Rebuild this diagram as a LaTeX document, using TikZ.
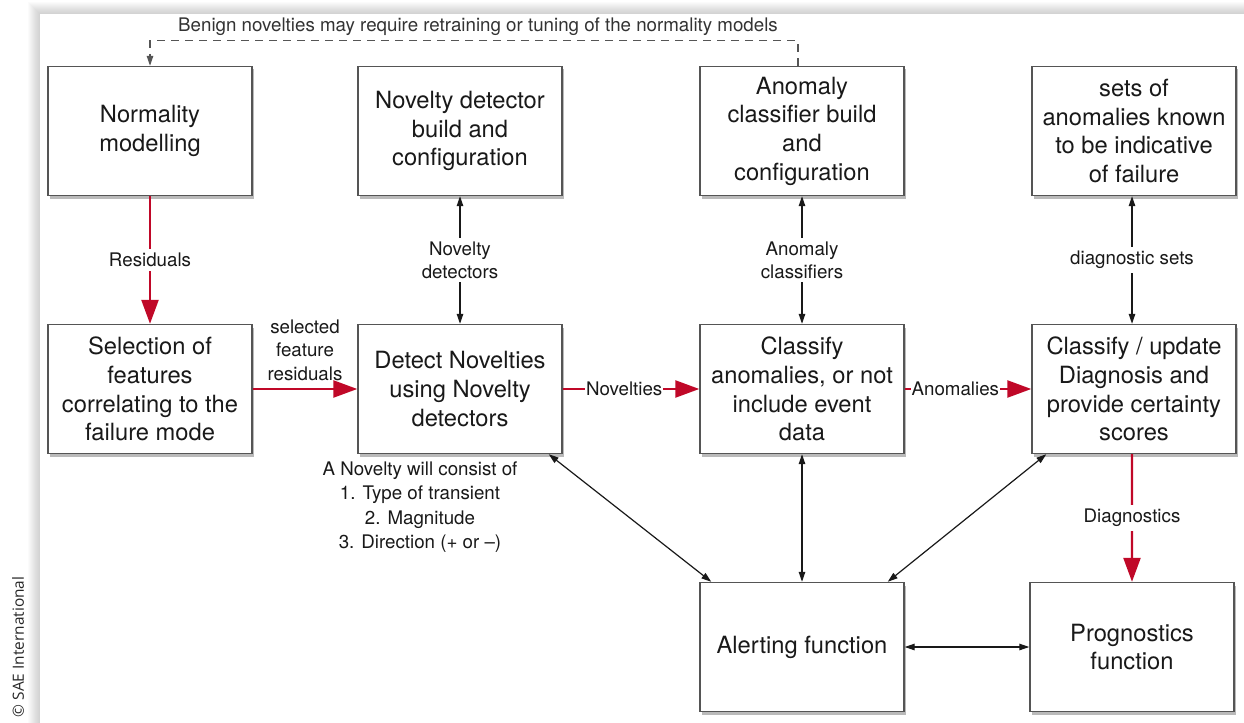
\documentclass[tikz,border=0pt]{standalone}
\usepackage{fontspec}
\setmainfont{TeX Gyre Heros}
\newfontfamily\notefont{Open Sans}
\usetikzlibrary{arrows.meta,shadows,calc}
\definecolor{flowred}{RGB}{192,8,40}
\definecolor{inkgrey}{RGB}{25,25,25}
\definecolor{edgegrey}{RGB}{85,85,85}

\begin{document}
\begin{tikzpicture}[x=1bp,y=-1bp,
  box/.style={draw=edgegrey, line width=1.4bp, fill=white,
    minimum width=204bp, minimum height=129bp, align=center, text=inkgrey,
    font=\fontsize{23.8}{28.8}\selectfont, inner sep=2bp,
    drop shadow={shadow xshift=2bp, shadow yshift=-3bp, opacity=0.45, fill=black!60}},
  lab/.style={font=\fontsize{18.8}{23}\selectfont, text=inkgrey, align=center},
  gap/.style={lab, fill=white, inner sep=4bp},
  flow/.style={draw=flowred, line width=2.4bp, -{Triangle[length=24bp,width=17bp]}},
  link/.style={draw=inkgrey, line width=1.2bp,
    {Triangle[length=10bp,width=6.5bp]}-{Triangle[length=10bp,width=6.5bp]}},
]
\useasboundingbox (0,0) rectangle (1244,723);

% page with a soft shadow along its top and left edges
\foreach \i in {1,...,12}
  \fill[black, opacity=0.016] (40-\i,14-\i) rectangle (1260,740);
\fill[white] (40,14) rectangle (1260,740);

% copyright note in the margin
\node[rotate=90, font=\notefont\fontsize{15.5}{18}\selectfont, text=black!85] (sae) at (18,647) {© SAE International};

% top row
\node[box] (norm) at (150,131) {Normality\\modelling};
\node[box] (ndb) at (460,131) {Novelty detector\\build and\\configuration};
\node[box] (acb) at (802,131) {Anomaly\\classifier build\\and\\configuration};
\node[box] (sets) at (1134,131) {sets of\\anomalies known\\to be indicative\\of failure};

% middle row
\node[box] (sel) at (150,389) {Selection of\\features\\correlating to the\\failure mode};
\node[box] (det) at (460,389) {Detect Novelties\\using Novelty\\detectors};
\node[box] (cls) at (802,389) {Classify\\anomalies, or not\\include event\\data};
\node[box] (upd) at (1134,389) {Classify / update\\Diagnosis and\\provide certainty\\scores};

% bottom row
\node[box] (alert) at (802,647) {Alerting function};
\node[box] (prog) at (1132,647) {Prognostics\\function};

% what a novelty consists of
\node[lab, anchor=north, font=\fontsize{18.8}{24.5}\selectfont] (novnote) at (420,458)
  {A Novelty will consist of\\1. Type of transient\\2. Magnitude\\3. Direction (+ or \textendash)};

% feedback loop
\node[lab, text=black!80] (benign) at (478,27) {Benign novelties may require retraining or tuning of the normality models};
\draw[edgegrey, line width=1.2bp, dash pattern=on 8bp off 6bp,
  -{Triangle[length=10bp,width=6.5bp]}]
  ([xshift=-4bp]acb.north) |- ([yshift=25bp]norm.north) -- (norm.north);

% main data flow
\draw[flow] (norm) -- node[gap] {Residuals} (sel);
\draw[flow] (sel) -- node[lab, above, font=\fontsize{18.8}{23.5}\selectfont, yshift=4bp] {selected\\feature\\residuals} (det);
\draw[flow] (det) -- node[gap, pos=0.45, inner sep=1bp] {Novelties} (cls);
\draw[flow] (cls) -- node[gap, pos=0.4, inner sep=1bp] {Anomalies} (upd);
\draw[flow] ([xshift=-2bp]upd.south) -- node[gap] {Diagnostics} (prog);

% model exchanges
\draw[link] (ndb) -- node[gap] {Novelty\\detectors} (det);
\draw[link] (acb) -- node[gap] {Anomaly\\classifiers} (cls);
\draw[link] ([xshift=-2bp]sets.south) -- node[gap] {diagnostic sets} ([xshift=-2bp]upd.north);

% alerting links
\draw[link] ([xshift=-14bp]det.south east) -- ([xshift=12bp]alert.north west);
\draw[link] (cls) -- (alert);
\draw[link] ([xshift=15bp]upd.south west) -- ([xshift=-17bp]alert.north east);
\draw[link] (alert) -- (prog);
\end{tikzpicture}
\end{document}
